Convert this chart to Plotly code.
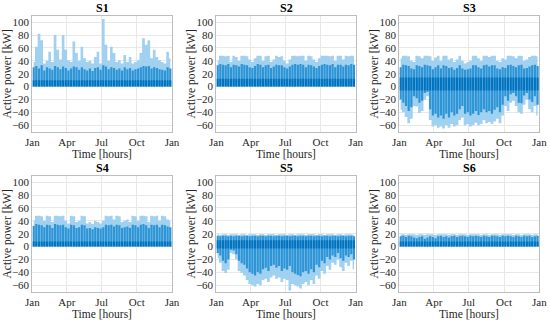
import pandas as pd
import plotly.graph_objects as go

# ---------------- data (weekly envelopes) ----------------
n_weeks = 52
week_centres = pd.date_range("2019-01-04 12:00", periods=n_weeks, freq="7D")

month_ticks = ["2019-01-01", "2019-04-01", "2019-07-01", "2019-10-01", "2020-01-01"]
month_labels = ["Jan", "Apr", "Jul", "Oct", "Jan"]
y_ticks = [-60, -40, -20, 0, 20, 40, 60, 80, 100]
panel_titles = ["S1", "S2", "S3", "S4", "S5", "S6"]

# S1
s1_peak = [38, 62, 82, 72, 36, 40, 54, 38, 80, 57, 42, 80, 57, 41, 38, 70, 52, 40, 62, 44,
           38, 40, 36, 46, 54, 36, 105, 65, 40, 62, 52, 38, 41, 36, 49, 38, 46, 36, 38, 41,
           52, 75, 65, 72, 44, 57, 46, 41, 38, 36, 54, 44]
s1_band = [30, 32, 28, 33, 25, 30, 28, 26, 32, 30, 27, 31, 29, 25, 28, 31, 30, 26, 30, 27,
           25, 28, 24, 29, 30, 26, 33, 31, 27, 30, 29, 26, 28, 25, 30, 27, 29, 25, 27, 28,
           30, 32, 31, 32, 28, 30, 29, 27, 26, 25, 30, 28]
# S2
s2_peak = [40, 48, 48, 47, 48, 38, 48, 46, 40, 48, 48, 47, 42, 38, 44, 48, 48, 40, 47, 48,
           38, 42, 48, 46, 47, 40, 36, 42, 48, 48, 47, 48, 48, 40, 48, 47, 42, 38, 44, 48,
           48, 48, 47, 48, 40, 48, 48, 42, 48, 47, 48, 48]
s2_band = [33, 35, 34, 33, 35, 30, 34, 33, 31, 35, 34, 33, 30, 29, 32, 35, 34, 30, 33, 34,
           29, 31, 34, 33, 33, 30, 28, 31, 34, 35, 34, 35, 34, 30, 34, 33, 31, 29, 32, 34,
           35, 34, 33, 35, 30, 34, 34, 31, 34, 33, 35, 34]
# S3
s3_peak = [44, 48, 48, 47, 40, 38, 48, 47, 44, 48, 48, 47, 40, 45, 48, 40, 48, 48, 42, 44,
           38, 42, 48, 40, 36, 38, 40, 48, 48, 44, 40, 48, 48, 46, 48, 48, 40, 38, 44, 42,
           48, 48, 47, 44, 48, 48, 40, 42, 46, 48, 48, 47]
s3_band = [30, 34, 33, 32, 28, 27, 33, 32, 30, 34, 33, 32, 27, 30, 33, 28, 33, 32, 29, 30,
           26, 29, 33, 28, 26, 27, 28, 33, 33, 30, 28, 33, 34, 31, 33, 33, 28, 27, 30, 29,
           33, 34, 32, 30, 33, 34, 28, 29, 31, 33, 34, 32]
s3_band_lo = [-20, -25, -30, -38, -32, -15, -18, -25, -22, -10, -8, -35, -45, -42, -48, -45,
              -50, -42, -48, -40, -45, -42, -35, -30, -42, -40, -45, -42, -38, -44, -40, -35,
              -40, -38, -42, -36, -32, -40, -28, -15, -22, -12, -10, -15, -25, -26, -14, -10,
              -20, -24, -15, -28]
s3_trough = [-36, -40, -47, -57, -50, -30, -31, -41, -38, -20, -15, -52, -62, -60, -64, -62,
             -65, -60, -64, -58, -62, -60, -52, -48, -60, -58, -62, -60, -56, -60, -58, -52,
             -57, -55, -58, -54, -50, -57, -45, -30, -38, -25, -22, -30, -40, -42, -28, -20,
             -35, -40, -30, -45]
# S4
s4_peak = [40, 48, 48, 47, 40, 48, 47, 38, 48, 48, 47, 48, 40, 36, 48, 47, 38, 40, 48, 47,
           36, 38, 35, 40, 38, 36, 40, 48, 47, 48, 42, 48, 47, 38, 40, 42, 38, 48, 47, 40,
           48, 48, 47, 38, 48, 47, 48, 40, 48, 47, 42, 40]
s4_band = [32, 35, 34, 33, 30, 34, 33, 29, 35, 34, 33, 34, 30, 28, 34, 33, 29, 30, 34, 33,
           28, 29, 27, 30, 29, 28, 30, 34, 33, 34, 31, 34, 33, 29, 30, 31, 29, 34, 33, 30,
           34, 35, 33, 29, 34, 33, 34, 30, 34, 33, 31, 30]
# S5
s5_peak = [19, 18, 19, 19, 18, 19, 19, 19, 18, 19, 19, 18, 19, 19, 19, 18, 19, 19, 18, 19,
           19, 19, 18, 19, 19, 19, 18, 19, 19, 18, 19, 19, 19, 18, 19, 19, 19, 18, 19, 19,
           18, 19, 19, 19, 18, 19, 19, 18, 19, 19, 19, 18]
s5_band = [17, 16, 17, 17, 16, 17, 16, 17, 17, 16, 17, 17, 16, 17, 17, 16, 17, 17, 16, 17,
           17, 16, 17, 17, 16, 17, 17, 16, 17, 17, 16, 17, 17, 16, 17, 17, 16, 17, 17, 16,
           17, 17, 16, 17, 17, 16, 17, 17, 16, 17, 17, 16]
s5_band_lo = [-10, -14, -22, -26, -20, -5, -6, -12, -22, -26, -28, -34, -40, -42, -45, -40,
              -42, -35, -33, -38, -30, -28, -33, -30, -38, -34, -36, -30, -40, -42, -44, -46,
              -40, -38, -42, -35, -40, -28, -32, -22, -26, -16, -20, -14, -16, -10, -18, -22,
              -14, -16, -12, -20]
s5_trough = [-18, -25, -38, -41, -36, -10, -12, -20, -38, -41, -45, -52, -58, -60, -62, -58,
             -60, -52, -50, -55, -48, -45, -50, -48, -55, -50, -52, -68, -58, -60, -62, -65,
             -58, -55, -60, -52, -58, -45, -50, -38, -42, -30, -36, -25, -28, -20, -32, -38,
             -25, -30, -22, -35]
# S6
s6_peak = [19, 19, 18, 19, 19, 19, 18, 19, 19, 18, 19, 19, 19, 18, 19, 19, 19, 19, 18, 19,
           19, 18, 19, 19, 19, 18, 19, 19, 19, 19, 18, 19, 19, 18, 19, 19, 19, 18, 19, 19,
           19, 19, 18, 19, 19, 18, 19, 19, 19, 18, 19, 19]
s6_band = [16, 17, 15, 17, 16, 14, 13, 15, 16, 12, 14, 16, 15, 13, 16, 17, 15, 16, 14, 16,
           17, 15, 16, 17, 16, 15, 17, 16, 17, 16, 15, 17, 16, 15, 17, 17, 16, 15, 17, 16,
           17, 16, 15, 17, 16, 15, 17, 16, 17, 15, 16, 17]

# dense core of each series (kW): lower, upper
core_lo = [0, 0, -6, 0, -3, 0]
core_hi = [10, 12, 14, 8, 10, 8]

zeros = [0] * n_weeks
series = [
    dict(peak=s1_peak, band=s1_band, band_lo=zeros, trough=zeros),
    dict(peak=s2_peak, band=s2_band, band_lo=zeros, trough=zeros),
    dict(peak=s3_peak, band=s3_band, band_lo=s3_band_lo, trough=s3_trough),
    dict(peak=s4_peak, band=s4_band, band_lo=zeros, trough=zeros),
    dict(peak=s5_peak, band=s5_band, band_lo=s5_band_lo, trough=s5_trough),
    dict(peak=s6_peak, band=s6_band, band_lo=zeros, trough=zeros),
]

# ---------------- layout geometry ----------------
W, H = 550, 322
col_px = [(32.3, 172.0), (216.3, 355.7), (399.3, 539.3)]
row_px = [(15.7, 131.7), (175.7, 291.7)]

LIGHT = "rgb(160,209,240)"
MEDIUM = "rgb(45,148,214)"
DARK = "rgb(0,114,190)"
FONT = "Liberation Serif"

fig = go.Figure()
layout = dict(
    width=W, height=H, margin=dict(l=0, r=0, t=0, b=0, autoexpand=False),
    paper_bgcolor="white", plot_bgcolor="white", showlegend=False,
    annotations=[],
    font=dict(family=FONT, size=11, color="#262626"),
)


def strokes(xref, yref, lo, hi, color, width_px):
    """Vertical strokes, one per week, from lo to hi (the look of a dense hourly trace)."""
    xs, ys = [], []
    for t, a, b in zip(week_centres, lo, hi):
        xs += [t, t, None]
        ys += [a, b, None]
    return go.Scatter(x=xs, y=ys, mode="lines", line=dict(color=color, width=width_px),
                      xaxis=xref, yaxis=yref, hoverinfo="skip", connectgaps=False)


for i, s in enumerate(series):
    r, c = divmod(i, 3)
    ax = "" if i == 0 else str(i + 1)
    xref, yref = "x" + ax, "y" + ax
    x0, x1 = col_px[c]
    y0, y1 = row_px[r]

    # light envelope: stepped filled outline between weekly trough and peak
    fig.add_trace(go.Scatter(x=week_centres, y=s["trough"], mode="lines",
                             line=dict(width=0, shape="hvh"), xaxis=xref, yaxis=yref,
                             hoverinfo="skip"))
    fig.add_trace(go.Scatter(x=week_centres, y=s["peak"], mode="lines",
                             line=dict(width=0, shape="hvh"), fill="tonexty", fillcolor=LIGHT,
                             xaxis=xref, yaxis=yref, hoverinfo="skip"))
    # medium band and dense core as strokes
    fig.add_trace(strokes(xref, yref, s["band_lo"], s["band"], MEDIUM, 2.2))
    fig.add_trace(strokes(xref, yref, [core_lo[i]] * n_weeks, [core_hi[i]] * n_weeks, DARK, 2.0))

    axis_common = dict(
        showgrid=True, gridcolor="#e8e8e8", gridwidth=1, zeroline=False,
        showline=True, mirror=True, linecolor="#bdbdbd", linewidth=1, ticks="",
        automargin=False, layer="below traces",
        tickfont=dict(family=FONT, size=11, color="#262626"),
    )
    layout["xaxis" + ax] = dict(
        domain=[x0 / W, x1 / W], anchor=yref, type="date",
        range=["2019-01-01", "2020-01-01"], tickvals=month_ticks, ticktext=month_labels,
        **axis_common,
    )
    layout["yaxis" + ax] = dict(
        domain=[1 - y1 / H, 1 - y0 / H], anchor=xref,
        range=[-70, 110], tickvals=y_ticks, **axis_common,
    )
    cx = (x0 + x1) / 2 / W
    layout["annotations"] += [
        dict(text="<b>%s</b>" % panel_titles[i], x=cx, y=1 - (y0 - 7.5) / H,
             xref="paper", yref="paper", showarrow=False, xanchor="center", yanchor="middle",
             font=dict(family=FONT, size=12, color="#000")),
        dict(text="Time [hours]", x=cx, y=1 - (y1 + 22.5) / H,
             xref="paper", yref="paper", showarrow=False, xanchor="center", yanchor="middle",
             font=dict(family=FONT, size=11.5, color="#262626")),
        dict(text="Active power [kW]", x=(x0 - 24.5) / W, y=1 - (y0 + y1) / 2 / H,
             xref="paper", yref="paper", showarrow=False, xanchor="center", yanchor="middle",
             textangle=-90, font=dict(family=FONT, size=11.5, color="#262626")),
    ]

fig.update_layout(**layout)
fig.write_html("out.html", config={"displayModeBar": False},
               post_script="document.body.style.margin='0';document.body.style.padding='0';")
